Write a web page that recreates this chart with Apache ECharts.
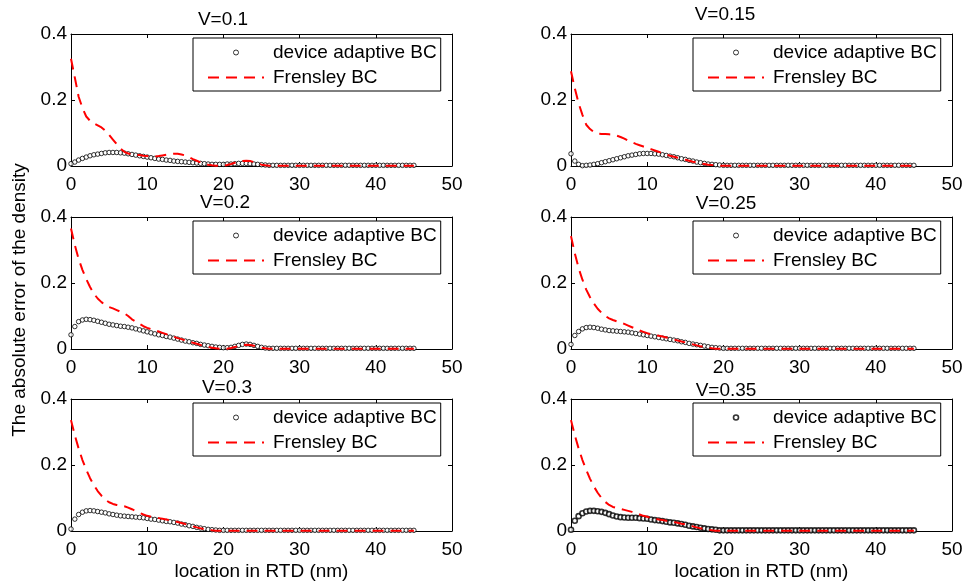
<!DOCTYPE html>
<html>
<head>
<meta charset="utf-8">
<script src="https://cdn.jsdelivr.net/npm/echarts@6/dist/echarts.min.js"></script>
<style>
html, body { margin: 0; padding: 0; background: #fff; }
#chart { width: 965px; height: 584px; }
</style>
</head>
<body>
<div id="chart"></div>
<script>
// Sample positions along the RTD (nm), every 0.5 nm
const xNm = [
  0, 0.5, 1, 1.5, 2, 2.5, 3, 3.5, 4, 4.5,
  5, 5.5, 6, 6.5, 7, 7.5, 8, 8.5, 9, 9.5,
  10, 10.5, 11, 11.5, 12, 12.5, 13, 13.5, 14, 14.5,
  15, 15.5, 16, 16.5, 17, 17.5, 18, 18.5, 19, 19.5,
  20, 20.5, 21, 21.5, 22, 22.5, 23, 23.5, 24, 24.5,
  25, 25.5, 26, 26.5, 27, 27.5, 28, 28.5, 29, 29.5,
  30, 30.5, 31, 31.5, 32, 32.5, 33, 33.5, 34, 34.5,
  35, 35.5, 36, 36.5, 37, 37.5, 38, 38.5, 39, 39.5,
  40, 40.5, 41, 41.5, 42, 42.5, 43, 43.5, 44, 44.5,
  45
];

const panelTitles = ['V=0.1', 'V=0.15', 'V=0.2', 'V=0.25', 'V=0.3', 'V=0.35'];
const seriesNames = ['device adaptive BC', 'Frensley BC'];
const xTicks = [0, 10, 20, 30, 40, 50];
const yTicks = [0, 0.2, 0.4];
const xTitle = 'location in RTD (nm)';
const yTitle = 'The absolute error of the density';

// Absolute density error, device adaptive boundary condition
const dev01 = [
  0.007, 0.012, 0.018, 0.023, 0.027, 0.031, 0.034, 0.036, 0.038, 0.040,
  0.041, 0.041, 0.041, 0.040, 0.039, 0.037, 0.035, 0.033, 0.031, 0.029,
  0.027, 0.025, 0.023, 0.021, 0.020, 0.018, 0.017, 0.015, 0.014, 0.013,
  0.012, 0.011, 0.010, 0.009, 0.008, 0.007, 0.006, 0.005, 0.005, 0.005,
  0.005, 0.006, 0.006, 0.007, 0.008, 0.008, 0.008, 0.007, 0.006, 0.005,
  0.004, 0.003, 0.002, 0.002, 0.002, 0.002, 0.002, 0.002, 0.002, 0.002,
  0.002, 0.002, 0.002, 0.002, 0.002, 0.002, 0.002, 0.002, 0.002, 0.002,
  0.002, 0.002, 0.002, 0.002, 0.002, 0.002, 0.002, 0.002, 0.002, 0.002,
  0.002, 0.002, 0.002, 0.002, 0.002, 0.002, 0.002, 0.002, 0.002, 0.002,
  0.002
];
const dev015 = [
  0.037, 0.015, 0.005, 0.001, 0.002, 0.003, 0.005, 0.007, 0.010, 0.013,
  0.016, 0.019, 0.022, 0.025, 0.028, 0.031, 0.033, 0.035, 0.037, 0.038,
  0.038, 0.038, 0.037, 0.036, 0.034, 0.032, 0.030, 0.028, 0.025, 0.022,
  0.020, 0.017, 0.015, 0.012, 0.010, 0.008, 0.006, 0.005, 0.004, 0.003,
  0.002, 0.002, 0.002, 0.002, 0.002, 0.002, 0.002, 0.002, 0.002, 0.002,
  0.002, 0.002, 0.002, 0.002, 0.002, 0.002, 0.002, 0.002, 0.002, 0.002,
  0.002, 0.002, 0.002, 0.002, 0.002, 0.002, 0.002, 0.002, 0.002, 0.002,
  0.002, 0.002, 0.002, 0.002, 0.002, 0.002, 0.002, 0.002, 0.002, 0.002,
  0.002, 0.002, 0.002, 0.002, 0.002, 0.002, 0.002, 0.002, 0.002, 0.002,
  0.002
];
const dev02 = [
  0.043, 0.068, 0.083, 0.088, 0.090, 0.089, 0.087, 0.084, 0.081, 0.078,
  0.075, 0.073, 0.071, 0.069, 0.068, 0.066, 0.064, 0.061, 0.058, 0.055,
  0.052, 0.049, 0.046, 0.043, 0.041, 0.038, 0.036, 0.033, 0.030, 0.027,
  0.024, 0.022, 0.019, 0.017, 0.014, 0.012, 0.010, 0.008, 0.006, 0.005,
  0.004, 0.004, 0.005, 0.008, 0.011, 0.014, 0.015, 0.014, 0.011, 0.008,
  0.005, 0.003, 0.002, 0.002, 0.002, 0.002, 0.002, 0.002, 0.002, 0.002,
  0.002, 0.002, 0.002, 0.002, 0.002, 0.002, 0.002, 0.002, 0.002, 0.002,
  0.002, 0.002, 0.002, 0.002, 0.002, 0.002, 0.002, 0.002, 0.002, 0.002,
  0.002, 0.002, 0.002, 0.002, 0.002, 0.002, 0.002, 0.002, 0.002, 0.002,
  0.002
];
const dev025 = [
  0.014, 0.041, 0.053, 0.061, 0.065, 0.066, 0.065, 0.063, 0.060, 0.058,
  0.056, 0.055, 0.054, 0.053, 0.052, 0.051, 0.049, 0.047, 0.045, 0.043,
  0.041, 0.039, 0.037, 0.035, 0.033, 0.031, 0.029, 0.027, 0.025, 0.022,
  0.020, 0.017, 0.015, 0.013, 0.011, 0.009, 0.007, 0.005, 0.004, 0.003,
  0.002, 0.002, 0.002, 0.002, 0.002, 0.002, 0.002, 0.002, 0.002, 0.002,
  0.002, 0.002, 0.002, 0.002, 0.002, 0.002, 0.002, 0.002, 0.002, 0.002,
  0.002, 0.002, 0.002, 0.002, 0.002, 0.002, 0.002, 0.002, 0.002, 0.002,
  0.002, 0.002, 0.002, 0.002, 0.002, 0.002, 0.002, 0.002, 0.002, 0.002,
  0.002, 0.002, 0.002, 0.002, 0.002, 0.002, 0.002, 0.002, 0.002, 0.002,
  0.002
];
const dev03 = [
  0.006, 0.036, 0.050, 0.057, 0.061, 0.062, 0.061, 0.059, 0.057, 0.055,
  0.052, 0.050, 0.048, 0.046, 0.045, 0.044, 0.043, 0.042, 0.041, 0.040,
  0.038, 0.036, 0.035, 0.033, 0.031, 0.029, 0.028, 0.026, 0.024, 0.021,
  0.019, 0.016, 0.014, 0.011, 0.009, 0.007, 0.005, 0.004, 0.003, 0.002,
  0.002, 0.002, 0.002, 0.002, 0.002, 0.002, 0.002, 0.002, 0.002, 0.002,
  0.002, 0.002, 0.002, 0.002, 0.002, 0.002, 0.002, 0.002, 0.002, 0.002,
  0.002, 0.002, 0.002, 0.002, 0.002, 0.002, 0.002, 0.002, 0.002, 0.002,
  0.002, 0.002, 0.002, 0.002, 0.002, 0.002, 0.002, 0.002, 0.002, 0.002,
  0.002, 0.002, 0.002, 0.002, 0.002, 0.002, 0.002, 0.002, 0.002, 0.002,
  0.002
];
const dev035 = [
  0.004, 0.031, 0.045, 0.054, 0.059, 0.061, 0.061, 0.060, 0.058, 0.055,
  0.051, 0.047, 0.044, 0.042, 0.041, 0.040, 0.040, 0.040, 0.039, 0.038,
  0.037, 0.035, 0.033, 0.032, 0.030, 0.028, 0.026, 0.025, 0.023, 0.021,
  0.019, 0.016, 0.014, 0.012, 0.010, 0.008, 0.006, 0.005, 0.004, 0.002,
  0.002, 0.002, 0.002, 0.002, 0.002, 0.002, 0.002, 0.002, 0.002, 0.002,
  0.002, 0.002, 0.002, 0.002, 0.002, 0.002, 0.002, 0.002, 0.002, 0.002,
  0.002, 0.002, 0.002, 0.002, 0.002, 0.002, 0.002, 0.002, 0.002, 0.002,
  0.002, 0.002, 0.002, 0.002, 0.002, 0.002, 0.002, 0.002, 0.002, 0.002,
  0.002, 0.002, 0.002, 0.002, 0.002, 0.002, 0.002, 0.002, 0.002, 0.002,
  0.002
];

// Absolute density error, Frensley boundary condition
const fr01 = [
  0.325, 0.268, 0.210, 0.176, 0.150, 0.137, 0.129, 0.123, 0.117, 0.107,
  0.094, 0.080, 0.066, 0.053, 0.043, 0.038, 0.035, 0.034, 0.033, 0.031,
  0.030, 0.029, 0.029, 0.030, 0.032, 0.034, 0.036, 0.037, 0.037, 0.035,
  0.032, 0.027, 0.021, 0.016, 0.011, 0.007, 0.004, 0.002, 0.001, 0.000,
  0.001, 0.003, 0.006, 0.010, 0.013, 0.015, 0.016, 0.015, 0.012, 0.008,
  0.004, 0.002, 0.001, 0.001, 0.001, 0.001, 0.001, 0.001, 0.001, 0.001,
  0.001, 0.001, 0.001, 0.001, 0.001, 0.001, 0.001, 0.001, 0.001, 0.001,
  0.001, 0.001, 0.001, 0.001, 0.001, 0.001, 0.001, 0.001, 0.001, 0.001,
  0.001, 0.001, 0.001, 0.001, 0.001, 0.001, 0.001, 0.001, 0.001, 0.001,
  0.001
];
const fr015 = [
  0.287, 0.235, 0.190, 0.155, 0.125, 0.112, 0.103, 0.098, 0.097, 0.097,
  0.096, 0.095, 0.092, 0.088, 0.083, 0.077, 0.072, 0.067, 0.063, 0.059,
  0.055, 0.051, 0.047, 0.043, 0.039, 0.035, 0.031, 0.028, 0.025, 0.022,
  0.019, 0.016, 0.013, 0.011, 0.008, 0.006, 0.004, 0.003, 0.002, 0.001,
  0.001, 0.001, 0.001, 0.001, 0.001, 0.001, 0.001, 0.001, 0.001, 0.001,
  0.001, 0.001, 0.001, 0.001, 0.001, 0.001, 0.001, 0.001, 0.001, 0.001,
  0.001, 0.001, 0.001, 0.001, 0.001, 0.001, 0.001, 0.001, 0.001, 0.001,
  0.001, 0.001, 0.001, 0.001, 0.001, 0.001, 0.001, 0.001, 0.001, 0.001,
  0.001, 0.001, 0.001, 0.001, 0.001, 0.001, 0.001, 0.001, 0.001, 0.001,
  0.001
];
const fr02 = [
  0.365, 0.315, 0.273, 0.240, 0.212, 0.188, 0.168, 0.153, 0.142, 0.133,
  0.127, 0.123, 0.118, 0.113, 0.108, 0.100, 0.090, 0.083, 0.076, 0.069,
  0.064, 0.060, 0.057, 0.053, 0.049, 0.045, 0.041, 0.037, 0.033, 0.030,
  0.026, 0.023, 0.019, 0.016, 0.012, 0.009, 0.006, 0.004, 0.002, 0.001,
  0.000, 0.001, 0.003, 0.006, 0.009, 0.012, 0.013, 0.012, 0.010, 0.007,
  0.004, 0.002, 0.001, 0.001, 0.001, 0.001, 0.001, 0.001, 0.001, 0.001,
  0.001, 0.001, 0.001, 0.001, 0.001, 0.001, 0.001, 0.001, 0.001, 0.001,
  0.001, 0.001, 0.001, 0.001, 0.001, 0.001, 0.001, 0.001, 0.001, 0.001,
  0.001, 0.001, 0.001, 0.001, 0.001, 0.001, 0.001, 0.001, 0.001, 0.001,
  0.001
];
const fr025 = [
  0.342, 0.290, 0.245, 0.210, 0.180, 0.157, 0.138, 0.122, 0.110, 0.100,
  0.093, 0.088, 0.084, 0.080, 0.076, 0.071, 0.066, 0.061, 0.056, 0.052,
  0.048, 0.045, 0.042, 0.040, 0.038, 0.035, 0.032, 0.029, 0.026, 0.023,
  0.020, 0.017, 0.014, 0.011, 0.008, 0.006, 0.004, 0.002, 0.001, 0.001,
  0.001, 0.001, 0.001, 0.001, 0.001, 0.001, 0.001, 0.001, 0.001, 0.001,
  0.001, 0.001, 0.001, 0.001, 0.001, 0.001, 0.001, 0.001, 0.001, 0.001,
  0.001, 0.001, 0.001, 0.001, 0.001, 0.001, 0.001, 0.001, 0.001, 0.001,
  0.001, 0.001, 0.001, 0.001, 0.001, 0.001, 0.001, 0.001, 0.001, 0.001,
  0.001, 0.001, 0.001, 0.001, 0.001, 0.001, 0.001, 0.001, 0.001, 0.001,
  0.001
];
const fr03 = [
  0.336, 0.290, 0.250, 0.215, 0.186, 0.160, 0.139, 0.121, 0.107, 0.095,
  0.087, 0.082, 0.079, 0.077, 0.075, 0.071, 0.066, 0.060, 0.055, 0.050,
  0.046, 0.043, 0.041, 0.039, 0.037, 0.035, 0.033, 0.030, 0.027, 0.024,
  0.021, 0.017, 0.014, 0.011, 0.008, 0.006, 0.004, 0.002, 0.001, 0.001,
  0.001, 0.001, 0.001, 0.001, 0.001, 0.001, 0.001, 0.001, 0.001, 0.001,
  0.001, 0.001, 0.001, 0.001, 0.001, 0.001, 0.001, 0.001, 0.001, 0.001,
  0.001, 0.001, 0.001, 0.001, 0.001, 0.001, 0.001, 0.001, 0.001, 0.001,
  0.001, 0.001, 0.001, 0.001, 0.001, 0.001, 0.001, 0.001, 0.001, 0.001,
  0.001, 0.001, 0.001, 0.001, 0.001, 0.001, 0.001, 0.001, 0.001, 0.001,
  0.001
];
const fr035 = [
  0.336, 0.290, 0.250, 0.215, 0.185, 0.158, 0.135, 0.116, 0.100, 0.088,
  0.079, 0.073, 0.070, 0.067, 0.064, 0.061, 0.058, 0.054, 0.050, 0.046,
  0.043, 0.040, 0.037, 0.035, 0.033, 0.031, 0.029, 0.027, 0.025, 0.022,
  0.020, 0.017, 0.014, 0.011, 0.008, 0.006, 0.004, 0.002, 0.001, 0.001,
  0.001, 0.001, 0.001, 0.001, 0.001, 0.001, 0.001, 0.001, 0.001, 0.001,
  0.001, 0.001, 0.001, 0.001, 0.001, 0.001, 0.001, 0.001, 0.001, 0.001,
  0.001, 0.001, 0.001, 0.001, 0.001, 0.001, 0.001, 0.001, 0.001, 0.001,
  0.001, 0.001, 0.001, 0.001, 0.001, 0.001, 0.001, 0.001, 0.001, 0.001,
  0.001, 0.001, 0.001, 0.001, 0.001, 0.001, 0.001, 0.001, 0.001, 0.001,
  0.001
];

const devSets = [dev01, dev015, dev02, dev025, dev03, dev035];
const frSets = [fr01, fr015, fr02, fr025, fr03, fr035];

// ---- layout and styling ----
const FONT = "'Liberation Sans', Arial, Helvetica, sans-serif";
const FS = 19;
const colLeft = [71, 571];
const rowTop = [34, 217, 399];
const plotW = 381, plotH = 132;
const titlePos = [[223, 19.5], [725, 15], [225, 203], [726, 203.5], [227, 387.5], [726, 390.5]];
const markerStroke = [1, 1, 1, 1, 1, 1.6];

const grid = [], xAxis = [], yAxis = [], series = [], legend = [], graphic = [];

const axisLineStyle = { show: true, onZero: false, lineStyle: { color: '#000', width: 1 } };
const tickStyle = { show: true, inside: true, length: 4, lineStyle: { color: '#000', width: 1 } };
const labelText = { color: '#000', fontSize: FS, fontFamily: FONT };

panelTitles.forEach((title, k) => {
  const left = colLeft[k % 2];
  const top = rowTop[Math.floor(k / 2)];
  const bottomRow = k >= 4;

  grid.push({ left: left, top: top, width: plotW, height: plotH, show: false,
              containLabel: false, outerBoundsMode: 'none' });

  const xRange = { type: 'value', min: xTicks[0], max: xTicks[xTicks.length - 1],
                   interval: xTicks[1] - xTicks[0] };
  const yRange = { type: 'value', min: yTicks[0], max: yTicks[yTicks.length - 1],
                   interval: yTicks[1] - yTicks[0] };

  xAxis.push(Object.assign({
    gridIndex: k, position: 'bottom',
    axisLine: axisLineStyle, axisTick: tickStyle, splitLine: { show: false },
    axisLabel: Object.assign({ margin: 9 }, labelText),
    name: bottomRow ? xTitle : '', nameLocation: 'middle', nameGap: 31,
    nameTextStyle: labelText
  }, xRange));
  xAxis.push(Object.assign({
    gridIndex: k, position: 'top',
    axisLine: axisLineStyle, axisTick: tickStyle, splitLine: { show: false },
    axisLabel: { show: false }
  }, xRange));

  yAxis.push(Object.assign({
    gridIndex: k, position: 'left',
    axisLine: axisLineStyle, axisTick: tickStyle, splitLine: { show: false },
    axisLabel: Object.assign({ margin: 4 }, labelText)
  }, yRange));
  yAxis.push(Object.assign({
    gridIndex: k, position: 'right',
    axisLine: axisLineStyle, axisTick: tickStyle, splitLine: { show: false },
    axisLabel: { show: false }
  }, yRange));

  series.push({
    type: 'scatter', name: seriesNames[0],
    xAxisIndex: 2 * k, yAxisIndex: 2 * k,
    data: xNm.map((x, i) => [x, devSets[k][i]]),
    symbol: 'circle', symbolSize: k === 5 ? 5 : 4.5,
    itemStyle: { color: '#fff', borderColor: '#000', borderWidth: markerStroke[k] },
    silent: true, z: 2
  });
  series.push({
    type: 'line', name: seriesNames[1],
    xAxisIndex: 2 * k, yAxisIndex: 2 * k,
    data: xNm.map((x, i) => [x, frSets[k][i]]),
    symbol: 'none', showSymbol: false,
    lineStyle: { color: '#ff0000', width: 2, type: [11, 7] },
    itemStyle: { color: '#ff0000' },
    silent: true, z: 3
  });

  legend.push({
    left: left + 122, top: top + 4,
    orient: 'vertical', itemWidth: 56, itemHeight: 5, itemGap: 6,
    padding: [5, 4, 4, 14],
    backgroundColor: '#fff', borderColor: '#000', borderWidth: 1, borderRadius: 0,
    selectedMode: false,
    textStyle: Object.assign({ padding: [0, 0, 0, 4] }, labelText),
    data: [
      { name: seriesNames[0], icon: 'circle',
        itemStyle: { color: '#fff', borderColor: '#000', borderWidth: markerStroke[k] } },
      { name: seriesNames[1], itemStyle: { opacity: 0 } }
    ]
  });

  graphic.push({
    type: 'text', x: titlePos[k][0], y: titlePos[k][1],
    style: { text: title, fill: '#000', fontSize: FS, fontFamily: FONT,
             align: 'center', verticalAlign: 'middle',
             textAlign: 'center', textVerticalAlign: 'middle' }
  });
});

// Shared y-axis title along the left edge
graphic.push({
  type: 'text', x: 20, y: 300, rotation: Math.PI / 2,
  style: { text: yTitle, fill: '#000', fontSize: FS, fontFamily: FONT,
           align: 'center', verticalAlign: 'middle',
           textAlign: 'center', textVerticalAlign: 'middle' }
});

const chart = echarts.init(document.getElementById('chart'), null, { renderer: 'canvas' });
chart.setOption({
  backgroundColor: '#fff',
  animation: false,
  textStyle: { fontFamily: FONT },
  grid: grid,
  xAxis: xAxis,
  yAxis: yAxis,
  legend: legend,
  graphic: graphic,
  series: series
});
</script>
</body>
</html>
